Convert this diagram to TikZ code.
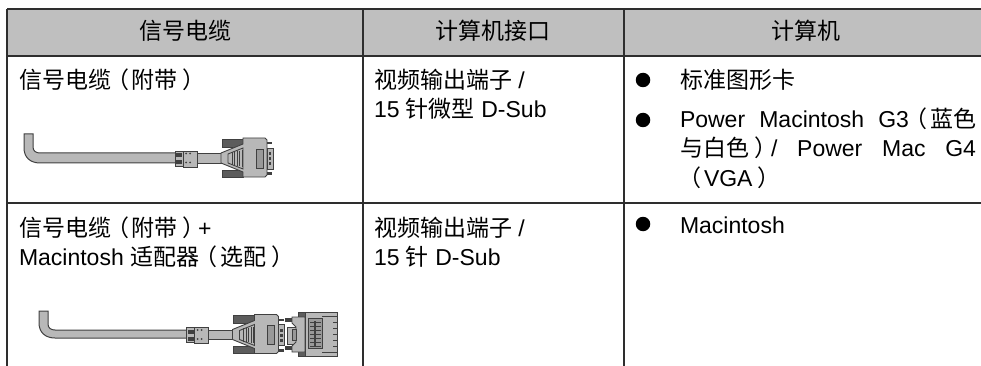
\documentclass[tikz,border=0pt]{standalone}
\usepackage{fontspec}
\setmainfont{Liberation Sans}
\newfontfamily\cjk{Noto Sans CJK SC}
\newcommand{\cj}[1]{{\cjk\fontsize{23}{27}\selectfont #1}}
\newcommand{\lpn}{\hspace{-5pt}\cj{（}\hspace{3pt}}
\newcommand{\rpn}{\hspace{5pt}\cj{）}\hspace{-8pt}}
\definecolor{hdr}{gray}{0.75}
\definecolor{cab}{gray}{0.72}
\definecolor{dk}{gray}{0.25}
\definecolor{md}{gray}{0.6}
\tikzset{
  x=1pt,y=-1pt,
  rule/.style={line width=1.4pt,color=black!82},
  txt/.style={anchor=base west,inner sep=0pt,outer sep=0pt,font=\fontsize{23}{27}\selectfont},
  head/.style={anchor=base,inner sep=0pt,outer sep=0pt,font=\fontsize{23}{27}\selectfont},
  blt/.style={circle,fill=black,inner sep=0pt,minimum size=14.5pt},
  part/.style={draw=dk,line width=0.9pt,fill=cab},
  dark/.style={draw=dk,line width=0.8pt,fill=dk!85},
  plug/.pic={
    % ferrite
    \path[part] (175,31) rectangle (183,46);
    \path[part] (183,31) rectangle (197,47);
    \fill[dk] (176,33) rectangle (182,37);\fill[dk] (176,40) rectangle (182,44);
    \fill[dk] (186,33.5) circle (1); \fill[dk] (190,33.5) circle (1); \fill[dk] (186,42.5) circle (1); \fill[dk] (190,42.5) circle (1);
    \path[part] (197,33.5) rectangle (221,43);
    % screws
    \path[dark] (222,19) rectangle (243,27);
    \path[dark] (222,50) rectangle (243,57);
    % hood
    \path[part] (221,33) -- (243,24) -- (243,18) -- (265,18) -- (267,20) -- (267,55) -- (265,57) -- (243,57) -- (243,52) -- (221,43) -- cycle;
    \path[part] (228,34) -- (243,28) -- (243,49) -- (228,43) -- cycle;
    \foreach \i in {232,234.5,...,243.5} {\draw[dk,line width=1pt] (\i,{30+(245-\i)*0.15}) -- (\i,{47-(245-\i)*0.15});}
    \path[part,fill=md] (256,29) rectangle (263,48);
    % front shell
    \path[part] (267,28) rectangle (273,49);
    \fill[dk] (268.5,32) rectangle (271,35);\fill[dk] (268.5,37) rectangle (271,40);\fill[dk] (268.5,42) rectangle (271,45);
    \fill[dk] (267,22) rectangle (272,24.5);\fill[dk] (267,52) rectangle (272,55);
  },
}
\begin{document}
\begin{tikzpicture}[x=1pt,y=-1pt]
\useasboundingbox (0,0) rectangle (981,366);
\fill[hdr] (7,9) rectangle (981,56);
% rules
\coordinate (tl) at (7,9); \coordinate (tr) at (981,9);
\coordinate (hl) at (7,56); \coordinate (hr) at (981,56);
\coordinate (ml) at (7,203); \coordinate (mr) at (981,203);
\draw[rule] (tl) -- (tr);
\draw[rule] (hl) -- (hr);
\draw[rule] (ml) -- (mr);
\draw[rule] (7,9) -- (7,366);
\draw[rule] (363,9) -- (363,366);
\draw[rule] (624,9) -- (624,366);
% header
\node[head] (h1) at (185,40) {\cj{信号电缆}};
\node[head] (h2) at (493,40) {\cj{计算机接口}};
\node[head] (h3) at (806,40) {\cj{计算机}};
% col1
\node[txt] (a1) at (19,89) {\cj{信号电缆}\lpn\cj{附带}\rpn};
\node[txt] (a2) at (19,236.5) {\cj{信号电缆}\lpn\cj{附带}\rpn+};
\node[txt] (a3) at (19,265) {Macintosh \cj{适配器}\lpn\cj{选配}\rpn};
% col2
\node[txt] (b1) at (374,89) {\cj{视频输出端子} /};
\node[txt] (b2) at (374,118) {15 \cj{针微型} D-Sub};
\node[txt] (b3) at (374,236.5) {\cj{视频输出端子} /};
\node[txt] (b4) at (374,265) {15 \cj{针} D-Sub};
% col3
\node[blt] (d1) at (643,80) {};
\node[blt] (d2) at (643,120) {};
\node[blt] (d3) at (643,224) {};
\node[txt] (c1) at (680,89) {\cj{标准图形卡}};
\node[txt] (c2) at (680,128) {\hbox to 296pt{Power\hfill Macintosh\hfill G3\lpn\cj{蓝色}}};
\node[txt] (c3) at (680,157) {\hbox to 296pt{\cj{与白色}\rpn\hspace{2pt}/\hfill Power\hfill Mac\hfill G4}};
\node[txt] (c4) at (683,186) {\lpn VGA\rpn};
\node[txt] (c5) at (680,233) {Macintosh};
% first cable
\path[part,line width=1pt] (24,134) -- (33,134) -- (33,147) .. controls (33,151) and (36,153) .. (40,153) -- (176,153) -- (176,163) -- (40,163) .. controls (30,163) and (24,157) .. (24,148) -- cycle;
\pic at (0,120) {plug};
% second cable
\path[part,line width=1pt] (39,311) -- (48,311) -- (48,324) .. controls (48,328) and (51,330) .. (55,330) -- (187,330) -- (187,338) -- (55,338) .. controls (45,338) and (39,332) .. (39,323) -- cycle;
\pic at (11.5,296.5) {plug};
% adapter
\fill[dk] (285,318) rectangle (292,322); \fill[dk] (285,346) rectangle (292,350);
\path[part] (287,327) rectangle (300,344);
\path[dark] (298,312) rectangle (306,319);
\path[dark] (298,350) rectangle (306,356);
\path[part] (292,317) -- (305,317) -- (305,352) -- (292,352) -- (292,346) -- (296,342) -- (296,327) -- (292,323) -- cycle;
\path[part,fill=md] (292,329) rectangle (296,340);
\path[part] (305,312) rectangle (337,356);
\path[part,fill=md] (308,318) rectangle (322,348);
\foreach \yy in {322,326,...,346} {\draw[dk,line width=1pt] (310,\yy) -- (321,\yy);}
\draw[dk,line width=1.5pt] (315,321) -- (315,346);
\draw[dk,line width=.8pt] (322,316) -- (337,316);
\draw[dk,line width=.8pt] (322,352) -- (337,352);
\foreach \yy in {322,328,...,346} {\draw[dk,line width=.8pt] (333,\yy) -- (337,\yy);}
\end{tikzpicture}
\end{document}
